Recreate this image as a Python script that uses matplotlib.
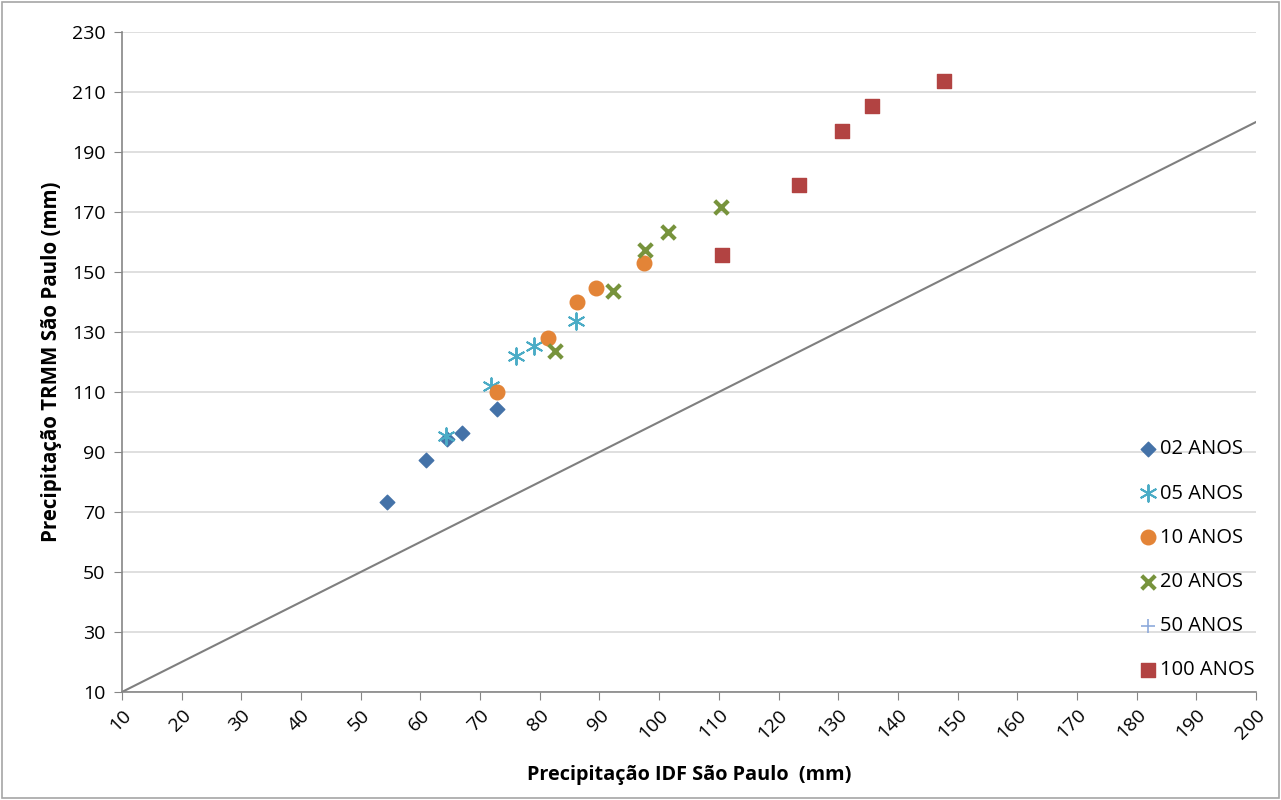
import matplotlib
matplotlib.use("Agg")
import matplotlib.pyplot as plt
from matplotlib.patches import Rectangle

plt.rcParams['font.family'] = ['Open Sans', 'DejaVu Sans']

x02 = [54.4, 60.9, 64.5, 67.0, 72.8]
y02 = [73.3, 87.3, 94.3, 96.3, 104.3]
x05 = [64.3, 71.8, 76.0, 79.0, 86.1]
y05 = [95.3, 112.0, 122.0, 125.3, 133.7]
x10 = [72.8, 81.4, 86.2, 89.4, 97.5]
y10 = [110.0, 128.0, 140.0, 144.7, 153.0]
x20 = [82.6, 92.3, 97.6, 101.5, 110.4]
y20 = [123.7, 143.7, 157.3, 163.3, 171.7]
x50 = []
y50 = []
x100 = [110.5, 123.4, 130.6, 135.7, 147.7]
y100 = [155.7, 179.0, 197.0, 205.3, 213.7]
line_x = [10, 200]
line_y = [10, 200]

xticks = list(range(10, 201, 10))
yticks = list(range(10, 231, 20))

fig = plt.figure(figsize=(12.81, 8.0), dpi=100)
fig.patches.append(Rectangle((0.0015, 0.002), 0.997, 0.996, transform=fig.transFigure,
                             fill=False, edgecolor='#a6a6a6', linewidth=1.2))
ax = fig.add_axes([0.0952, 0.135, 0.8853, 0.825])

ax.plot(line_x, line_y, color='#7f7f7f', linewidth=1.5, zorder=2)
ax.scatter(x02, y02, marker='D', s=55, color='#4472a8', label='02 ANOS', zorder=3)
ax.scatter(x05, y05, marker=(6, 2, 0), s=140, color='#4bacc6', linewidths=1.4, label='05 ANOS', zorder=3)
ax.scatter(x10, y10, marker='o', s=110, color='#e38437', label='10 ANOS', zorder=3)
ax.scatter(x20, y20, marker='x', s=95, color='#77933c', linewidths=3, label='20 ANOS', zorder=3)
ax.scatter(x50, y50, marker='+', s=110, color='#8eaadb', linewidths=1.2, label='50 ANOS', zorder=3)
ax.scatter(x100, y100, marker='s', s=95, color='#b24342', label='100 ANOS', zorder=3)

ax.set_xlim(10, 200)
ax.set_ylim(10, 230)
ax.set_xticks(xticks)
ax.set_yticks(yticks)
ax.tick_params(axis='x', labelsize=14, rotation=45, direction='out', length=6, color='#868686', pad=4)
ax.tick_params(axis='y', labelsize=14, direction='out', length=6, color='#868686', pad=6)
for lab in ax.get_xticklabels():
    lab.set_ha('right')
    lab.set_rotation_mode('anchor')
ax.yaxis.grid(True, color='#d9d9d9', linewidth=1.2)
ax.set_axisbelow(True)
for s in ['top', 'right']:
    ax.spines[s].set_visible(False)
for s in ['left', 'bottom']:
    ax.spines[s].set_color('#868686')
    ax.spines[s].set_linewidth(1.2)

ax.set_xlabel('Precipitação IDF São Paulo  (mm)', fontsize=14.3, fontweight='bold', labelpad=16)
ax.set_ylabel('Precipitação TRMM São Paulo (mm)', fontsize=14.8, fontweight='bold', labelpad=7)

leg = ax.legend(loc='upper left', bbox_to_anchor=(0.889, 0.395), frameon=False, fontsize=14.5,
                labelspacing=1.2, handletextpad=0.1, handlelength=1.0, borderaxespad=0)

fig.savefig('out.png', dpi=100)
